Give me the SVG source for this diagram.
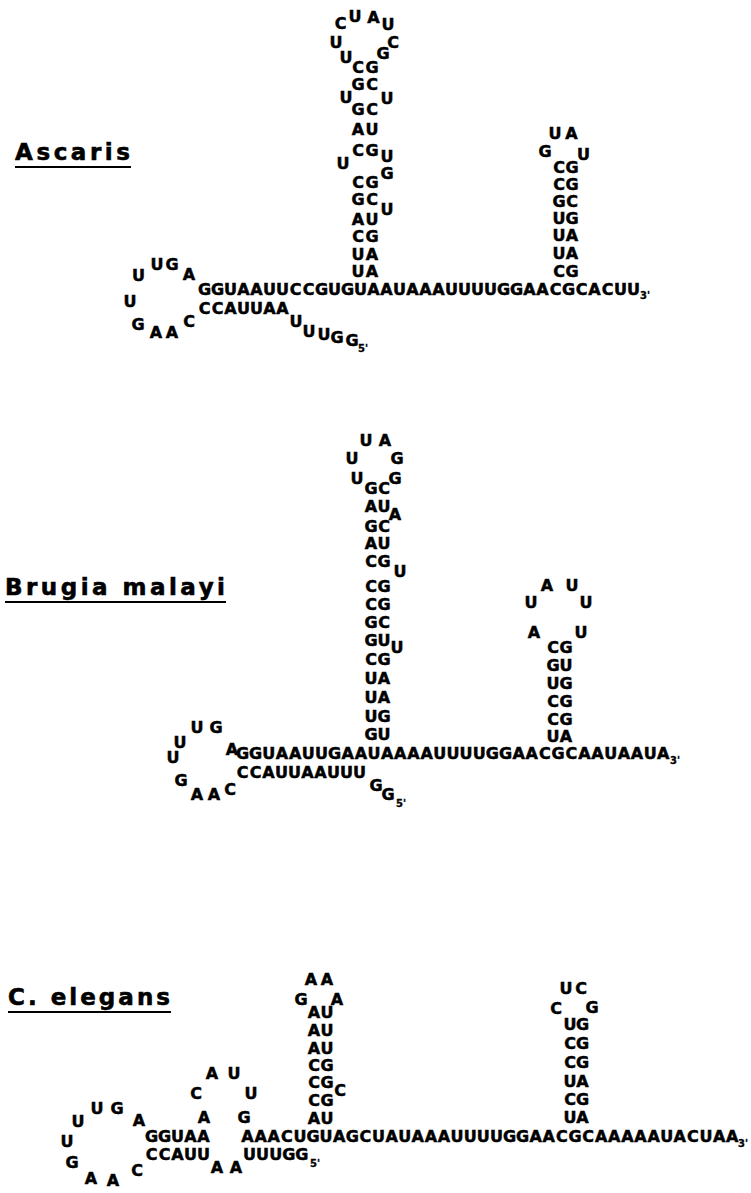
<svg xmlns="http://www.w3.org/2000/svg" width="751" height="1193" viewBox="0 0 751 1193">
<style>
text{font-family:"DejaVu Sans","Liberation Sans",sans-serif;font-weight:bold;fill:#000;stroke:#000;stroke-width:0.5}
.n{font-size:16px;text-anchor:middle}
.s{font-size:10px;stroke-width:0.3}
.t{font-size:23px;stroke-width:0.6}
.ul{stroke:#000;stroke-width:2.2}
</style>
<rect width="751" height="1193" fill="#fff"/>

<g id="ascaris">
<text class="t" x="15" y="160" textLength="115" lengthAdjust="spacing">Ascaris</text>
<line class="ul" x1="15" y1="167" x2="131" y2="167"/>
<!-- loop -->
<text class="n" x="138.5" y="281">U</text>
<text class="n" x="157 172" y="270">UG</text>
<text class="n" x="189" y="280">A</text>
<text class="n" x="130" y="307">U</text>
<text class="n" x="138" y="330">G</text>
<text class="n" x="156 172" y="338">AA</text>
<text class="n" x="189" y="327">C</text>
<!-- main lines -->
<text class="n" x="204.5 217.5 230.5 243.5 256.5 269.5 282.5 295.5 308.5 321.5 334.5 347.5 360.5 373.5 386.5 399.5 412.5 425.5 438.5 451.5 464.5 477.5 490.5 503.5 516.5 529.5 542.5 555.5 568.5 581.5 594.5 607.5 620.5 633.5" y="295">GGUAAUUCCGUGUAAUAAAUUUUGGAACGCACUU</text>
<text class="s" x="640" y="299">3'</text>
<text class="n" x="204.5 217.5 230.5 243.5 256.5 269.5 282.5" y="314">CCAUUAA</text>
<text class="n" x="296" y="327">U</text>
<text class="n" x="309" y="337">U</text>
<text class="n" x="324" y="340">U</text>
<text class="n" x="337" y="343">G</text>
<text class="n" x="352" y="346">G</text>
<text class="s" x="358" y="352">5'</text>
<!-- long stem -->
<text class="n" x="340.5" y="29">C</text>
<text class="n" x="355" y="22">U</text>
<text class="n" x="373.5" y="23">A</text>
<text class="n" x="388" y="30">U</text>
<text class="n" x="336" y="48">U</text>
<text class="n" x="393" y="48">C</text>
<text class="n" x="346" y="63">U</text>
<text class="n" x="383" y="59">G</text>
<text class="n" x="358 372" y="73">CG</text>
<text class="n" x="358 372" y="90">GC</text>
<text class="n" x="346" y="103">U</text>
<text class="n" x="387" y="104">U</text>
<text class="n" x="358 372" y="115">GC</text>
<text class="n" x="358 372" y="135">AU</text>
<text class="n" x="358 372" y="156">CG</text>
<text class="n" x="343" y="169">U</text>
<text class="n" x="387" y="162">U</text>
<text class="n" x="387" y="179">G</text>
<text class="n" x="358 372" y="188">CG</text>
<text class="n" x="358 372" y="205">GC</text>
<text class="n" x="387" y="215">U</text>
<text class="n" x="358 372" y="225">AU</text>
<text class="n" x="358 372" y="242">CG</text>
<text class="n" x="358 372" y="260">UA</text>
<text class="n" x="358 372" y="277">UA</text>
<!-- right stem -->
<text class="n" x="555 571.5" y="139">UA</text>
<text class="n" x="545" y="157">G</text>
<text class="n" x="583.5" y="160">U</text>
<text class="n" x="559 572" y="173">CG</text>
<text class="n" x="559 572" y="190">CG</text>
<text class="n" x="559 572" y="207">GC</text>
<text class="n" x="559 572" y="224">UG</text>
<text class="n" x="559 572" y="241">UA</text>
<text class="n" x="559 572" y="259">UA</text>
<text class="n" x="559 572" y="277">CG</text>
</g>

<g id="brugia">
<text class="t" x="5" y="595" textLength="220" lengthAdjust="spacing">Brugia malayi</text>
<line class="ul" x1="5" y1="602" x2="226" y2="602"/>
<!-- loop -->
<text class="n" x="197 216" y="733">UG</text>
<text class="n" x="180" y="748">U</text>
<text class="n" x="232" y="755">A</text>
<text class="n" x="173" y="763">U</text>
<text class="n" x="181" y="786">G</text>
<text class="n" x="197 214" y="800">AA</text>
<text class="n" x="230" y="795">C</text>
<!-- lines -->
<text class="n" x="242.5 255.65 268.8 281.95 295.1 308.25 321.4 334.55 347.7 360.85 374 387.15 400.3 413.45 426.6 439.75 452.9 466.05 479.2 492.35 505.5 518.65 531.8 544.95 558.1 571.25 584.4 597.55 610.7 623.85 637 650.15 663.3" y="759">GGUAAUUGAAUAAAAUUUUGGAACGCAAUAAUA</text>
<text class="s" x="670" y="764">3'</text>
<text class="n" x="242.5 255.5 268.5 281.5 294.5 307.5 320.5 333.5 346.5 359.5" y="778">CCAUUAAUUU</text>
<text class="n" x="376" y="791">G</text>
<text class="n" x="388" y="800">G</text>
<text class="s" x="396" y="807">5'</text>
<!-- long stem -->
<text class="n" x="366 385" y="446">UA</text>
<text class="n" x="352" y="464">U</text>
<text class="n" x="397" y="464">G</text>
<text class="n" x="357" y="484">U</text>
<text class="n" x="395" y="484">G</text>
<text class="n" x="371 384" y="494">GC</text>
<text class="n" x="371 384" y="512">AU</text>
<text class="n" x="395" y="520">A</text>
<text class="n" x="371 384" y="532">GC</text>
<text class="n" x="371 384" y="549">AU</text>
<text class="n" x="371 384" y="567">CG</text>
<text class="n" x="400" y="577">U</text>
<text class="n" x="371 384" y="592">CG</text>
<text class="n" x="371 384" y="610">CG</text>
<text class="n" x="371 384" y="628">GC</text>
<text class="n" x="371 384" y="646">GU</text>
<text class="n" x="397" y="653">U</text>
<text class="n" x="371 384" y="665">CG</text>
<text class="n" x="371 384" y="684">UA</text>
<text class="n" x="371 384" y="703">UA</text>
<text class="n" x="371 384" y="722">UG</text>
<text class="n" x="371 384" y="740">GU</text>
<!-- small stem -->
<text class="n" x="547 572" y="591">AU</text>
<text class="n" x="531" y="608">U</text>
<text class="n" x="586" y="608">U</text>
<text class="n" x="534" y="638">A</text>
<text class="n" x="581" y="638">U</text>
<text class="n" x="553 566" y="653">CG</text>
<text class="n" x="553 566" y="671">GU</text>
<text class="n" x="553 566" y="689">UG</text>
<text class="n" x="553 566" y="707">CG</text>
<text class="n" x="553 566" y="725">CG</text>
<text class="n" x="553 566" y="742">UA</text>
</g>

<g id="elegans">
<text class="t" x="8" y="1005" textLength="162" lengthAdjust="spacing">C. elegans</text>
<line class="ul" x1="8" y1="1012" x2="171" y2="1012"/>
<!-- loop -->
<text class="n" x="97 117" y="1114">UG</text>
<text class="n" x="78" y="1127">U</text>
<text class="n" x="139" y="1126">A</text>
<text class="n" x="67" y="1147">U</text>
<text class="n" x="72" y="1168">G</text>
<text class="n" x="91" y="1184">A</text>
<text class="n" x="113" y="1186">A</text>
<text class="n" x="137" y="1176">C</text>
<!-- lines -->
<text class="n" x="151.5 164.5 177.5 190.5 203.5" y="1142">GGUAA</text>
<text class="n" x="247.5 260.6 273.7 286.8 299.9 313 326.1 339.2 352.3 365.4 378.5 391.6 404.7 417.8 430.9 444 457.1 470.2 483.3 496.4 509.5 522.6 535.7 548.8 561.9 575 588.1 601.2 614.3 627.4 640.5 653.6 666.7 679.8 692.9 706 719.1 732.2" y="1142">AAACUGUAGCUAUAAAUUUUGGAACGCAAAAAUACUAA</text>
<text class="s" x="738" y="1147">3'</text>
<text class="n" x="151.5 164.5 177.5 190.5 203.5" y="1160">CCAUU</text>
<text class="n" x="217 236" y="1173">AA</text>
<text class="n" x="249.5 262.6 275.7 288.8 301.9" y="1160">UUUGG</text>
<text class="s" x="310" y="1167">5'</text>
<!-- small hairpin -->
<text class="n" x="212 234" y="1079">AU</text>
<text class="n" x="196" y="1099">C</text>
<text class="n" x="251" y="1099">U</text>
<text class="n" x="204" y="1123">A</text>
<text class="n" x="244" y="1123">G</text>
<!-- big stem -->
<text class="n" x="311 327" y="985">AA</text>
<text class="n" x="301" y="1005">G</text>
<text class="n" x="337" y="1005">A</text>
<text class="n" x="314 327" y="1018">AU</text>
<text class="n" x="314 327" y="1036">AU</text>
<text class="n" x="314 327" y="1054">AU</text>
<text class="n" x="314 327" y="1071">CG</text>
<text class="n" x="314 327" y="1088">CG</text>
<text class="n" x="340" y="1096">C</text>
<text class="n" x="314 327" y="1106">CG</text>
<text class="n" x="314 327" y="1124">AU</text>
<!-- right stem -->
<text class="n" x="566 581" y="994">UC</text>
<text class="n" x="556" y="1014">C</text>
<text class="n" x="592" y="1013">G</text>
<text class="n" x="570 582.5" y="1030">UG</text>
<text class="n" x="570 582.5" y="1049">CG</text>
<text class="n" x="570 582.5" y="1068">CG</text>
<text class="n" x="570 582.5" y="1087">UA</text>
<text class="n" x="570 582.5" y="1105">CG</text>
<text class="n" x="570 582.5" y="1123">UA</text>
</g>
</svg>
